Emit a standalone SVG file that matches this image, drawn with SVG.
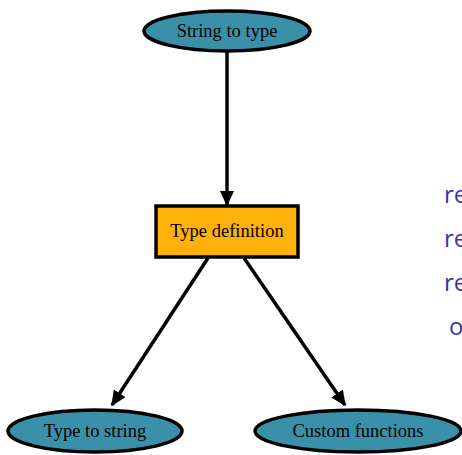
<svg xmlns="http://www.w3.org/2000/svg" width="462" height="455" viewBox="0 0 462 455">
<style>
.node ellipse{fill:#3a90a8;stroke:#000;stroke-width:3.5}
.node rect{fill:#fdb10a;stroke:#000;stroke-width:3.5}
.node text{font-family:"Liberation Serif",serif;font-size:18.5px;fill:#000;text-anchor:middle}
.edge{stroke:#000;stroke-width:3.5;fill:none}
.side{font-family:"Open Sans",sans-serif;font-size:24px;fill:#3535b5}
</style>
<defs>
<marker id="arr" markerWidth="4.4" markerHeight="4" refX="4" refY="2" orient="auto" markerUnits="strokeWidth">
<path d="M0,0 L4.4,2 L0,4 Z" fill="#000"/>
</marker>
</defs>
<g id="connectors">
<line class="edge" x1="227" y1="52" x2="227" y2="205" marker-end="url(#arr)"/>
<line class="edge" x1="208" y1="258" x2="112" y2="405" marker-end="url(#arr)"/>
<line class="edge" x1="244" y1="258" x2="345" y2="405" marker-end="url(#arr)"/>
</g>
<g id="string-to-type" class="node">
<ellipse cx="227" cy="31" rx="83" ry="20"/>
<text x="227" y="37">String to type</text>
</g>
<g id="type-definition" class="node">
<rect x="156" y="206" width="142" height="51"/>
<text x="227" y="237">Type definition</text>
</g>
<g id="type-to-string" class="node">
<ellipse cx="95" cy="431" rx="87" ry="21"/>
<text x="95" y="437">Type to string</text>
</g>
<g id="custom-functions" class="node">
<ellipse cx="358" cy="431" rx="103" ry="21"/>
<text x="358" y="437">Custom functions</text>
</g>
<g id="side-text">
<text class="side" x="444" y="203">re</text>
<text class="side" x="444" y="247">re</text>
<text class="side" x="444" y="291">re</text>
<text class="side" x="449" y="335">o</text>
</g>
</svg>
